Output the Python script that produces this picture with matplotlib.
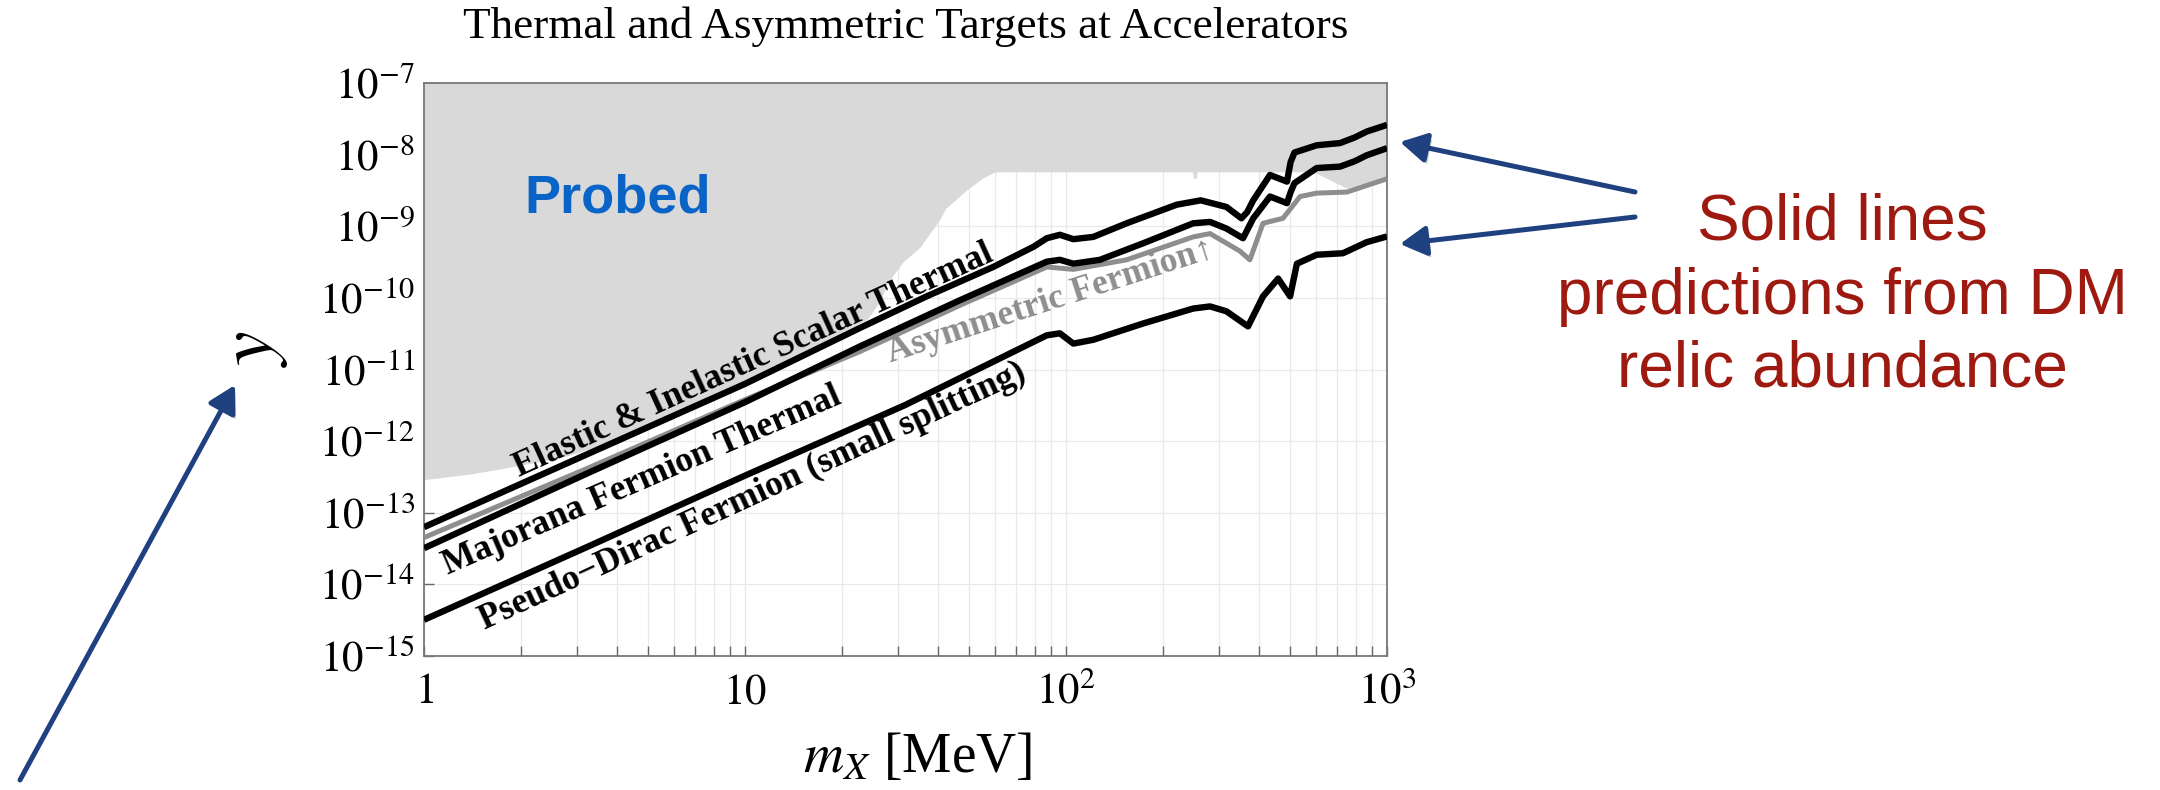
import matplotlib
matplotlib.use("Agg")
import matplotlib.pyplot as plt
import matplotlib.patheffects as pe
from matplotlib.patches import FancyArrowPatch

plt.rcParams["mathtext.fontset"] = "stix"
plt.rcParams["font.family"] = ["Liberation Serif", "DejaVu Serif"]

# thermal target curves (m in MeV, y dimensionless)
m_scalar = [1, 3.16, 10, 22.8, 36.8, 59.3, 79.4, 87.1, 95.7, 105.4, 121.6, 154.5, 221.3,
            263, 316, 352, 367, 383, 432, 488, 501, 515, 604, 714, 794, 865, 1000]
y_scalar = [6.3e-14, 6.3e-13, 6.3e-12, 3.8e-11, 1.05e-10, 2.7e-10, 5.2e-10, 6.8e-10,
            7.6e-10, 6.6e-10, 7.1e-10, 1.10e-9, 2.0e-9, 2.3e-9, 1.86e-9, 1.29e-9, 1.58e-9,
            2.3e-9, 5.2e-9, 4.2e-9, 7.9e-9, 1.07e-8, 1.35e-8, 1.45e-8, 1.74e-8, 2.1e-8,
            2.6e-8]

m_majorana = [1, 3.16, 10, 22.8, 46.8, 87.1, 95.7, 105.4, 127.6, 174.2, 249, 281, 316,
              356, 383, 432, 488, 501, 515, 604, 714, 794, 865, 1000]
y_majorana = [3.2e-14, 3.4e-13, 3.5e-12, 2.1e-11, 9.3e-11, 3.2e-10, 3.4e-10, 3.0e-10,
              3.4e-10, 5.8e-10, 1.10e-9, 1.15e-9, 9.3e-10, 6.8e-10, 1.29e-9, 2.6e-9,
              2.1e-9, 3.0e-9, 4.0e-9, 6.5e-9, 6.8e-9, 8.1e-9, 9.8e-9, 1.23e-8]

m_asym = [1, 3.16, 10, 22.8, 46.8, 87.1, 105.4, 154.5, 249, 281, 348, 374, 411, 474,
          536, 604, 750, 1000]
y_asym = [4.5e-14, 4.0e-13, 3.8e-12, 1.78e-11, 7.9e-11, 2.7e-10, 2.5e-10, 3.4e-10,
          7.1e-10, 7.9e-10, 4.5e-10, 3.4e-10, 1.10e-9, 1.29e-9, 2.6e-9, 2.9e-9, 3.0e-9,
          4.6e-9]

m_pseudo = [1, 3.16, 10, 31.6, 87.1, 95.7, 105.4, 121.6, 174.2, 249, 281, 316, 369, 411,
            458, 499, 524, 604, 729, 865, 1000]
y_pseudo = [3.2e-15, 3.2e-14, 3.3e-13, 3.2e-12, 3.0e-11, 3.2e-11, 2.3e-11, 2.6e-11,
            4.4e-11, 7.1e-11, 7.6e-11, 6.5e-11, 4.0e-11, 1.05e-10, 1.86e-10, 1.05e-10,
            3.0e-10, 4.0e-10, 4.2e-10, 6.0e-10, 7.2e-10]

# lower edge of the already probed region
m_probed = [1, 1.41, 2.0, 2.82, 3.55, 10, 24.0, 26.3, 27.7, 31.1, 35.1, 40.5, 42.2,
            49.0, 55.0, 60.1, 248, 249, 255, 256, 589, 750, 1000]
y_probed = [2.9e-13, 3.5e-13, 4.6e-13, 6.3e-13, 8.7e-13, 7.1e-12, 5.0e-11, 8.9e-11,
            1.58e-10, 3.2e-10, 5.1e-10, 1.26e-9, 1.78e-9, 3.2e-9, 4.7e-9, 5.75e-9,
            5.75e-9, 4.7e-9, 4.7e-9, 5.75e-9, 5.75e-9, 3.4e-9, 4.7e-9]

x_ticks = [1, 10, 100, 1000]
x_labels = [r"$1$", r"$10$", r"$10^{2}$", r"$10^{3}$"]
y_ticks = [1e-15, 1e-14, 1e-13, 1e-12, 1e-11, 1e-10, 1e-9, 1e-8, 1e-7]
y_labels = [r"$10^{-15}$", r"$10^{-14}$", r"$10^{-13}$", r"$10^{-12}$", r"$10^{-11}$",
            r"$10^{-10}$", r"$10^{-9}$", r"$10^{-8}$", r"$10^{-7}$"]

W, H = 2160, 790
fig = plt.figure(figsize=(W / 100, H / 100), dpi=100)
ax = fig.add_axes([424 / W, (H - 656) / H, 963 / W, 573 / H])

ax.set_xscale("log")
ax.set_yscale("log")
ax.set_xlim(1, 1000)
ax.set_ylim(1e-15, 1e-7)
ax.set_axisbelow(True)
ax.grid(True, which="both", color="#e9e9e9", lw=0.9)

ax.fill_between(m_probed, y_probed, 1e-7, color="#d9d9d9", lw=0, zorder=1)

line = dict(solid_joinstyle="round", solid_capstyle="butt")
ax.plot(m_asym, y_asym, color="#8e8e8e", lw=3.6, zorder=3, **line)
ax.plot(m_scalar, y_scalar, color="black", lw=4.6, zorder=4, **line)
ax.plot(m_majorana, y_majorana, color="black", lw=4.6, zorder=4, **line)
ax.plot(m_pseudo, y_pseudo, color="black", lw=4.6, zorder=4, **line)

lab = dict(fontsize=25.5, fontweight="bold", ha="left", va="baseline",
           rotation_mode="anchor", family=["Liberation Serif", "DejaVu Serif"], zorder=5)
ax.text(1.98, 3.2e-13, "Elastic & Inelastic Scalar Thermal", rotation=24.5, **lab)
ax.text(1.19, 1.35e-14, "Majorana Fermion Thermal", rotation=23.5, **lab)
ax.text(1.54, 2.3e-15, "Pseudo\u2212Dirac Fermion (small splitting)", rotation=24.8, **lab)
ax.text(28.5, 1.26e-11, "Asymmetric Fermion\u2191", rotation=18, color="#8e8e8e", **lab)

ax.text(2.06, 1.58e-9, "Probed", fontsize=39, fontweight="bold", color="#0a64c8",
        family="Liberation Sans", ha="left", va="baseline", zorder=5)

ax.set_xticks(x_ticks, labels=x_labels)
ax.set_yticks(y_ticks, labels=y_labels)
ax.tick_params(axis="both", which="major", direction="in", length=7, width=1,
               color="#666666", labelsize=31)
ax.tick_params(axis="x", which="minor", direction="in", length=7, width=1, color="#666666")
ax.tick_params(axis="y", which="minor", length=0)
ax.tick_params(axis="x", which="major", pad=34)
ax.tick_params(axis="y", which="major", pad=6.5)
for t in ax.get_xticklabels():
    t.set_va("baseline")
for s in ax.spines.values():
    s.set_color("#777777")
    s.set_linewidth(1.3)

ax.set_xlabel(r"$m_X$ [MeV]", fontsize=40)
ax.xaxis.set_label_coords(0.512, -0.203)
ax.xaxis.label.set_va("baseline")
ax.set_ylabel(r"$y$", fontsize=56)
ax.yaxis.set_label_coords(-0.139, 0.5375)

fig.text(906 / W, (H - 38) / H, "Thermal and Asymmetric Targets at Accelerators",
         fontsize=32.5, ha="center", va="baseline")

red = dict(fontsize=46, color="#9e1a10", family="Liberation Sans", ha="center",
           va="baseline")
fig.text(1842 / W, (H - 239) / H, "Solid lines", **red)
fig.text(1842 / W, (H - 314) / H, "predictions from DM", **red)
fig.text(1842 / W, (H - 386) / H, "relic abundance", **red)

# callout arrows (pixel positions on the slide)
arrows = [((1635, 192), (1400, 142)), ((1635, 217), (1400, 244)), ((20, 780), (235, 385))]
for (x0, y0), (x1, y1) in arrows:
    a = FancyArrowPatch((x0 / W, 1 - y0 / H), (x1 / W, 1 - y1 / H),
                        transform=fig.transFigure,
                        arrowstyle="-|>,head_length=0.8,head_width=0.45",
                        mutation_scale=20, lw=3.6, color="#1f4180",
                        shrinkA=0, shrinkB=0, capstyle="round",
                        path_effects=[pe.SimplePatchShadow(offset=(2, -3), alpha=0.25),
                                      pe.Normal()])
    fig.add_artist(a)

fig.savefig("out.png", dpi=100)
